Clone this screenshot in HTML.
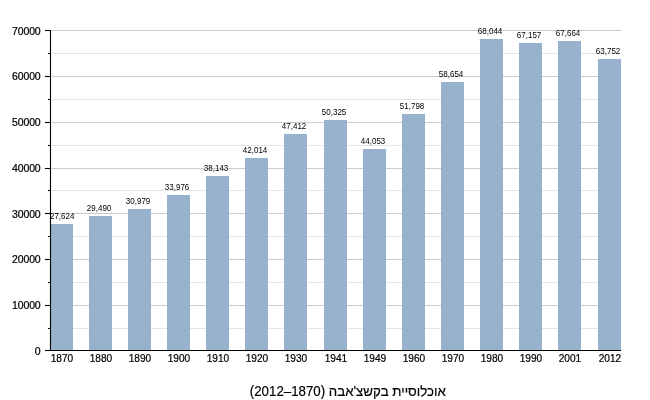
<!DOCTYPE html>
<html lang="he"><head><meta charset="utf-8"><title>chart</title>
<style>
html,body{margin:0;padding:0;background:#fff;}
body{width:650px;height:400px;overflow:hidden;}
svg{display:block;}
text{font-family:"Liberation Sans",sans-serif;fill:#000;}
.yl,.xl{stroke:#000;stroke-width:0.22px;}
.cap{stroke:#000;stroke-width:0.18px;}
.yl{letter-spacing:-0.15px;}
.yl{font-size:11px;text-anchor:end;}
.xl{font-size:11px;text-anchor:middle;}
.vl{font-size:9.1px;text-anchor:middle;}
.cap{font-size:14px;text-anchor:middle;}
</style></head><body>
<svg width="650" height="400" viewBox="0 0 650 400">
<rect width="650" height="400" fill="#fff"/>
<line x1="50.5" x2="621.0" y1="328.50" y2="328.50" stroke="#e4e4e4" stroke-width="1"/>
<line x1="50.5" x2="621.0" y1="305.50" y2="305.50" stroke="#cccccc" stroke-width="1"/>
<line x1="50.5" x2="621.0" y1="282.50" y2="282.50" stroke="#e4e4e4" stroke-width="1"/>
<line x1="50.5" x2="621.0" y1="259.50" y2="259.50" stroke="#cccccc" stroke-width="1"/>
<line x1="50.5" x2="621.0" y1="236.50" y2="236.50" stroke="#e4e4e4" stroke-width="1"/>
<line x1="50.5" x2="621.0" y1="213.50" y2="213.50" stroke="#cccccc" stroke-width="1"/>
<line x1="50.5" x2="621.0" y1="190.50" y2="190.50" stroke="#e4e4e4" stroke-width="1"/>
<line x1="50.5" x2="621.0" y1="168.50" y2="168.50" stroke="#cccccc" stroke-width="1"/>
<line x1="50.5" x2="621.0" y1="145.50" y2="145.50" stroke="#e4e4e4" stroke-width="1"/>
<line x1="50.5" x2="621.0" y1="122.50" y2="122.50" stroke="#cccccc" stroke-width="1"/>
<line x1="50.5" x2="621.0" y1="99.50" y2="99.50" stroke="#e4e4e4" stroke-width="1"/>
<line x1="50.5" x2="621.0" y1="76.50" y2="76.50" stroke="#cccccc" stroke-width="1"/>
<line x1="50.5" x2="621.0" y1="53.50" y2="53.50" stroke="#e4e4e4" stroke-width="1"/>
<line x1="50.5" x2="621.0" y1="30.50" y2="30.50" stroke="#cccccc" stroke-width="1"/>
<rect x="50.00" y="224" width="23.00" height="126.50" fill="#98b1cc"/>
<rect x="89.00" y="216" width="23.00" height="134.50" fill="#98b1cc"/>
<rect x="128.00" y="209" width="23.00" height="141.50" fill="#98b1cc"/>
<rect x="167.00" y="195" width="23.00" height="155.50" fill="#98b1cc"/>
<rect x="206.00" y="176" width="23.00" height="174.50" fill="#98b1cc"/>
<rect x="245.00" y="158" width="23.00" height="192.50" fill="#98b1cc"/>
<rect x="284.00" y="134" width="23.00" height="216.50" fill="#98b1cc"/>
<rect x="324.00" y="120" width="23.00" height="230.50" fill="#98b1cc"/>
<rect x="363.00" y="149" width="23.00" height="201.50" fill="#98b1cc"/>
<rect x="402.00" y="114" width="23.00" height="236.50" fill="#98b1cc"/>
<rect x="441.00" y="82" width="23.00" height="268.50" fill="#98b1cc"/>
<rect x="480.00" y="39" width="23.00" height="311.50" fill="#98b1cc"/>
<rect x="519.00" y="43" width="23.00" height="307.50" fill="#98b1cc"/>
<rect x="558.00" y="41" width="23.00" height="309.50" fill="#98b1cc"/>
<rect x="598.00" y="59" width="23.00" height="291.50" fill="#98b1cc"/>
<text class="vl" x="62.20" y="218.80" transform="translate(62.20 0) scale(0.88 1) translate(-62.20 0)">27,624</text>
<text class="vl" x="99.10" y="210.80" transform="translate(99.10 0) scale(0.88 1) translate(-99.10 0)">29,490</text>
<text class="vl" x="138.10" y="203.80" transform="translate(138.10 0) scale(0.88 1) translate(-138.10 0)">30,979</text>
<text class="vl" x="177.10" y="189.80" transform="translate(177.10 0) scale(0.88 1) translate(-177.10 0)">33,976</text>
<text class="vl" x="216.10" y="170.80" transform="translate(216.10 0) scale(0.88 1) translate(-216.10 0)">38,143</text>
<text class="vl" x="255.10" y="152.80" transform="translate(255.10 0) scale(0.88 1) translate(-255.10 0)">42,014</text>
<text class="vl" x="294.10" y="128.80" transform="translate(294.10 0) scale(0.88 1) translate(-294.10 0)">47,412</text>
<text class="vl" x="334.10" y="114.80" transform="translate(334.10 0) scale(0.88 1) translate(-334.10 0)">50,325</text>
<text class="vl" x="373.10" y="143.80" transform="translate(373.10 0) scale(0.88 1) translate(-373.10 0)">44,053</text>
<text class="vl" x="412.10" y="108.80" transform="translate(412.10 0) scale(0.88 1) translate(-412.10 0)">51,798</text>
<text class="vl" x="451.10" y="76.80" transform="translate(451.10 0) scale(0.88 1) translate(-451.10 0)">58,654</text>
<text class="vl" x="490.10" y="33.80" transform="translate(490.10 0) scale(0.88 1) translate(-490.10 0)">68,044</text>
<text class="vl" x="529.10" y="37.80" transform="translate(529.10 0) scale(0.88 1) translate(-529.10 0)">67,157</text>
<text class="vl" x="568.10" y="35.80" transform="translate(568.10 0) scale(0.88 1) translate(-568.10 0)">67,664</text>
<text class="vl" x="608.10" y="53.80" transform="translate(608.10 0) scale(0.88 1) translate(-608.10 0)">63,752</text>
<line x1="50.5" x2="50.5" y1="30.0" y2="351.0" stroke="#000" stroke-width="1.1"/>
<line x1="45.0" x2="621.0" y1="350.5" y2="350.5" stroke="#000" stroke-width="1.1"/>
<line x1="45.0" x2="50.5" y1="350.50" y2="350.50" stroke="#000" stroke-width="1.1"/>
<text class="yl" x="40.55" y="354.70" transform="translate(40.55 0) scale(0.955 1) translate(-40.55 0)">0</text>
<line x1="48.0" x2="50.5" y1="328.50" y2="328.50" stroke="#000" stroke-width="1.1"/>
<line x1="45.0" x2="50.5" y1="305.50" y2="305.50" stroke="#000" stroke-width="1.1"/>
<text class="yl" x="40.55" y="308.99" transform="translate(40.55 0) scale(0.955 1) translate(-40.55 0)">10000</text>
<line x1="48.0" x2="50.5" y1="282.50" y2="282.50" stroke="#000" stroke-width="1.1"/>
<line x1="45.0" x2="50.5" y1="259.50" y2="259.50" stroke="#000" stroke-width="1.1"/>
<text class="yl" x="40.55" y="263.27" transform="translate(40.55 0) scale(0.955 1) translate(-40.55 0)">20000</text>
<line x1="48.0" x2="50.5" y1="236.50" y2="236.50" stroke="#000" stroke-width="1.1"/>
<line x1="45.0" x2="50.5" y1="213.50" y2="213.50" stroke="#000" stroke-width="1.1"/>
<text class="yl" x="40.55" y="217.56" transform="translate(40.55 0) scale(0.955 1) translate(-40.55 0)">30000</text>
<line x1="48.0" x2="50.5" y1="190.50" y2="190.50" stroke="#000" stroke-width="1.1"/>
<line x1="45.0" x2="50.5" y1="168.50" y2="168.50" stroke="#000" stroke-width="1.1"/>
<text class="yl" x="40.55" y="171.84" transform="translate(40.55 0) scale(0.955 1) translate(-40.55 0)">40000</text>
<line x1="48.0" x2="50.5" y1="145.50" y2="145.50" stroke="#000" stroke-width="1.1"/>
<line x1="45.0" x2="50.5" y1="122.50" y2="122.50" stroke="#000" stroke-width="1.1"/>
<text class="yl" x="40.55" y="126.13" transform="translate(40.55 0) scale(0.955 1) translate(-40.55 0)">50000</text>
<line x1="48.0" x2="50.5" y1="99.50" y2="99.50" stroke="#000" stroke-width="1.1"/>
<line x1="45.0" x2="50.5" y1="76.50" y2="76.50" stroke="#000" stroke-width="1.1"/>
<text class="yl" x="40.55" y="80.41" transform="translate(40.55 0) scale(0.955 1) translate(-40.55 0)">60000</text>
<line x1="48.0" x2="50.5" y1="53.50" y2="53.50" stroke="#000" stroke-width="1.1"/>
<line x1="45.0" x2="50.5" y1="30.50" y2="30.50" stroke="#000" stroke-width="1.1"/>
<text class="yl" x="40.55" y="34.70" transform="translate(40.55 0) scale(0.955 1) translate(-40.55 0)">70000</text>
<text class="xl" x="61.90" y="362" transform="translate(61.90 0) scale(0.92 1) translate(-61.90 0)">1870</text>
<text class="xl" x="100.90" y="362" transform="translate(100.90 0) scale(0.92 1) translate(-100.90 0)">1880</text>
<text class="xl" x="139.90" y="362" transform="translate(139.90 0) scale(0.92 1) translate(-139.90 0)">1890</text>
<text class="xl" x="178.90" y="362" transform="translate(178.90 0) scale(0.92 1) translate(-178.90 0)">1900</text>
<text class="xl" x="217.90" y="362" transform="translate(217.90 0) scale(0.92 1) translate(-217.90 0)">1910</text>
<text class="xl" x="256.90" y="362" transform="translate(256.90 0) scale(0.92 1) translate(-256.90 0)">1920</text>
<text class="xl" x="295.90" y="362" transform="translate(295.90 0) scale(0.92 1) translate(-295.90 0)">1930</text>
<text class="xl" x="335.90" y="362" transform="translate(335.90 0) scale(0.92 1) translate(-335.90 0)">1941</text>
<text class="xl" x="374.90" y="362" transform="translate(374.90 0) scale(0.92 1) translate(-374.90 0)">1949</text>
<text class="xl" x="413.90" y="362" transform="translate(413.90 0) scale(0.92 1) translate(-413.90 0)">1960</text>
<text class="xl" x="452.90" y="362" transform="translate(452.90 0) scale(0.92 1) translate(-452.90 0)">1970</text>
<text class="xl" x="491.90" y="362" transform="translate(491.90 0) scale(0.92 1) translate(-491.90 0)">1980</text>
<text class="xl" x="530.90" y="362" transform="translate(530.90 0) scale(0.92 1) translate(-530.90 0)">1990</text>
<text class="xl" x="569.90" y="362" transform="translate(569.90 0) scale(0.92 1) translate(-569.90 0)">2001</text>
<text class="xl" x="609.90" y="362" transform="translate(609.90 0) scale(0.92 1) translate(-609.90 0)">2012</text>
<text class="cap" x="347.8" y="396.4" transform="translate(347.8 0) scale(0.95 1) translate(-347.8 0)" direction="rtl" unicode-bidi="embed">אוכלוסיית בקשצ'אבה (1870–2012)</text>
</svg>
</body></html>
